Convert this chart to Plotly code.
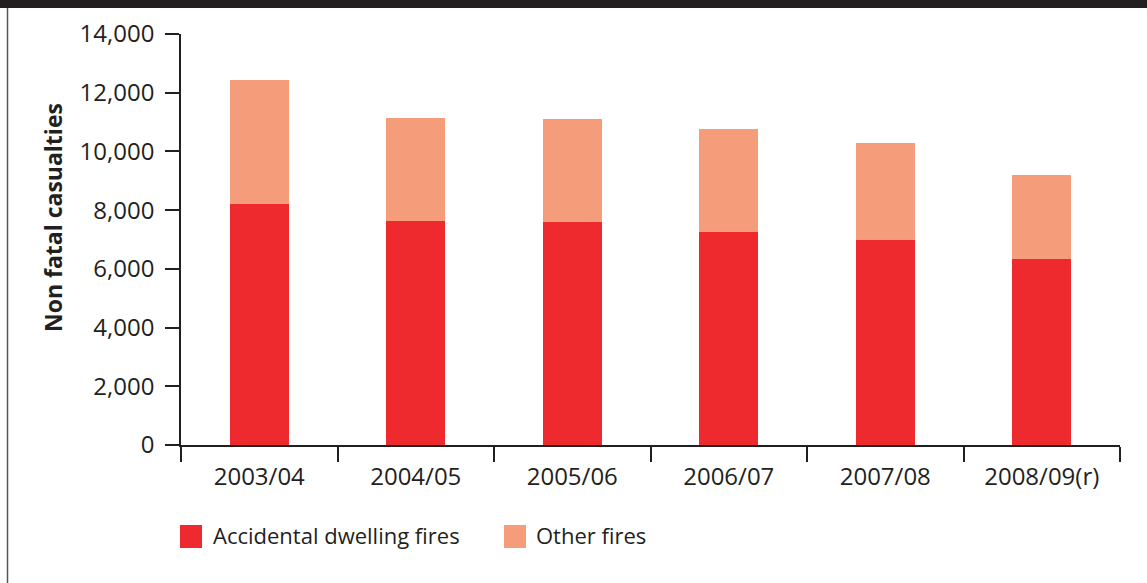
import plotly.graph_objects as go

years = ["2003/04", "2004/05", "2005/06", "2006/07", "2007/08", "2008/09(r)"]
accidental_dwelling = [8200, 7630, 7600, 7250, 6980, 6340]
other_fires = [4230, 3510, 3500, 3510, 3310, 2860]
y_ticks = [0, 2000, 4000, 6000, 8000, 10000, 12000, 14000]

RED = "#EE2A2E"
SALMON = "#F59D7B"
INK = "#231F20"
FONT = "Open Sans"

W, H = 1147, 583
L, R, T, B = 181, 27, 34, 138
PW, PH = W - L - R, H - T - B

def px(x):
    return (x - L) / PW

def py(y):
    return (H - B - y) / PH

fig = go.Figure()
fig.add_trace(go.Bar(x=years, y=accidental_dwelling, name="Accidental dwelling fires",
                     marker=dict(color=RED, line=dict(width=0)), width=0.377, showlegend=False))
fig.add_trace(go.Bar(x=years, y=other_fires, name="Other fires",
                     marker=dict(color=SALMON, line=dict(width=0)), width=0.377, showlegend=False))

fig.update_layout(
    width=W, height=H,
    margin=dict(l=L, r=R, t=T, b=B, autoexpand=False),
    barmode="stack",
    plot_bgcolor="white", paper_bgcolor="white",
    font=dict(family=FONT, color=INK, size=22),
    xaxis=dict(
        type="category", showline=True, linecolor=INK, linewidth=1.5,
        ticks="outside", ticklen=15, tickwidth=1.5, tickcolor=INK,
        tickson="boundaries", showgrid=False, zeroline=False,
        tickfont=dict(size=24, color=INK), ticklabelstandoff=9,
    ),
    yaxis=dict(
        range=[0, 14000], tickvals=y_ticks, tickformat=",",
        showline=True, linecolor=INK, linewidth=1.5,
        ticks="outside", ticklen=14, tickwidth=1.5, tickcolor=INK,
        showgrid=False, zeroline=False,
        tickfont=dict(size=24, color=INK), ticklabelstandoff=6,
    ),
    shapes=[
        dict(type="rect", xref="paper", yref="paper", x0=px(-5), x1=px(W + 5),
             y0=py(8), y1=py(-5), fillcolor=INK, line=dict(width=0), layer="above"),
        dict(type="line", xref="paper", yref="paper", x0=px(7.5), x1=px(7.5),
             y0=py(8), y1=py(H + 5), line=dict(color="#555555", width=1.5)),
        dict(type="rect", xref="paper", yref="paper", x0=px(180), x1=px(202),
             y0=py(548), y1=py(525), fillcolor=RED, line=dict(width=0)),
        dict(type="rect", xref="paper", yref="paper", x0=px(504), x1=px(526),
             y0=py(548), y1=py(525), fillcolor=SALMON, line=dict(width=0)),
    ],
    annotations=[
        dict(text="<b>Non fatal casualties</b>", xref="paper", yref="paper", x=px(53), y=py(218),
             xanchor="center", yanchor="middle", textangle=-90, showarrow=False,
             font=dict(size=23, color=INK)),
        dict(text="Accidental dwelling fires", xref="paper", yref="paper", x=px(211), y=py(535),
             xanchor="left", yanchor="middle", showarrow=False, font=dict(size=22, color=INK)),
        dict(text="Other fires", xref="paper", yref="paper", x=px(534), y=py(535),
             xanchor="left", yanchor="middle", showarrow=False, font=dict(size=22, color=INK)),
    ],
)

fig.write_html("out.html", config={"displayModeBar": False},
               post_script="document.body.style.margin='0';")
